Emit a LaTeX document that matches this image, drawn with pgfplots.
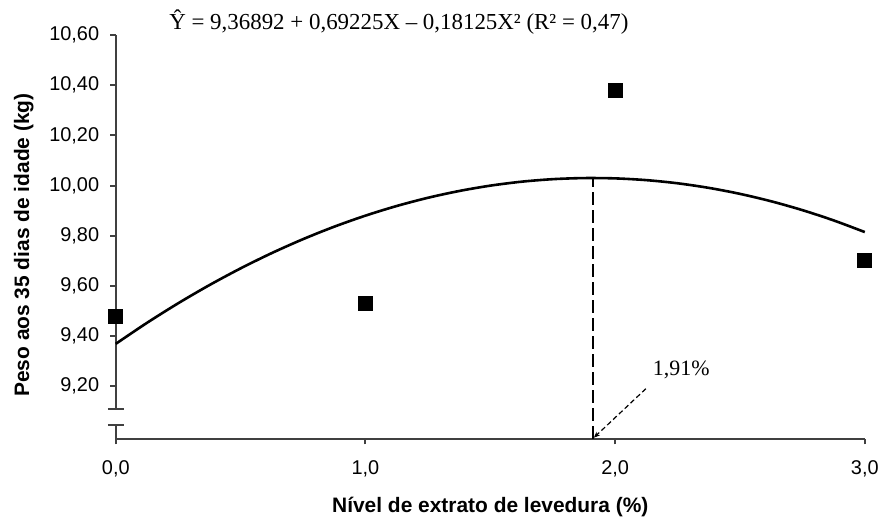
\documentclass[border=0pt]{standalone}
\usepackage{pgfplots}
\pgfplotsset{compat=1.18}
\usetikzlibrary{arrows.meta}
\usepackage{fontspec}
\setmainfont{Liberation Sans}
\newfontfamily\serif{Liberation Serif}

\begin{document}
\begin{tikzpicture}
% page size: 880x517 px at 0.5bp per px
\path[use as bounding box] (-57.9bp,-39bp) rectangle (382.2bp,219.5bp);
\begin{axis}[
    at={(0,0)}, anchor=south west,
    scale only axis,
    width=374.6bp, height=202bp,
    xmin=0, xmax=3, ymin=8.99, ymax=10.6,
    clip=false,
    axis x line=bottom, axis y line=left,
    axis line style={-, line width=1bp, black!75},
    xtick={0,1,2,3},
    ytick={9.2,9.4,9.6,9.8,10.0,10.2,10.4,10.6},
    tick align=outside,
    major tick length=2.8bp,
    tick style={line width=1bp, black!75},
    /pgf/number format/assume math mode=true,
    xticklabel style={yshift=-4.5bp, /pgf/number format/.cd, fixed, fixed zerofill, precision=1, use comma},
    yticklabel style={xshift=-2bp, /pgf/number format/.cd, fixed, fixed zerofill, precision=2, use comma},
    ticklabel style={font=\fontsize{10}{12}\selectfont},
    xlabel={N\'ivel de extrato de levedura (\%)},
    ylabel={Peso aos 35 dias de idade (kg)},
    label style={font=\fontsize{10.5}{12}\selectfont\bfseries},
    xlabel style={at={(axis description cs:0.5,0)}, anchor=center, yshift=-34bp},
    ylabel style={at={(axis description cs:0,0.48)}, anchor=center, yshift=46bp},
]
% fitted quadratic, points
\addplot[black, line width=1.3bp, smooth] coordinates {
    (0,9.36892) (0.125,9.45262) (0.25,9.53065) (0.375,9.60303) (0.5,9.66973)
    (0.625,9.73078) (0.75,9.78615) (0.875,9.83587) (1,9.87992) (1.125,9.91831)
    (1.25,9.95103) (1.375,9.97809) (1.5,9.99948) (1.625,10.01521) (1.75,10.02528)
    (1.875,10.02968) (2,10.02842) (2.125,10.02149) (2.25,10.00890) (2.375,9.99065)
    (2.5,9.96673) (2.625,9.93715) (2.75,9.90190) (2.875,9.86099) (3,9.81442)
};
% observed means
\addplot[only marks, mark=square*, mark size=3.5bp, black] coordinates {
    (0,9.48) (1,9.53) (2,10.38) (3,9.70)
};
% maximum point
\addplot[black, line width=1bp, dash pattern=on 6.5bp off 2.5bp] coordinates {(1.91,8.99) (1.91,10.0299)};

\draw[black, line width=0.6bp, dash pattern=on 2.5bp off 1.5bp, -{Stealth[length=3bp,width=2.5bp]}]
    (axis cs:2.123,9.19) -- (axis cs:1.915,8.995);
\node[font=\serif\fontsize{11}{12}\selectfont] at (axis cs:2.265,9.264) {1,91\%};

\node[font=\serif\fontsize{11.5}{13}\selectfont] at (rel axis cs:0.378,1.032)
    {Ŷ = 9,36892 + 0,69225X – 0,18125X² (R² = 0,47)};
\end{axis}
% broken y axis
\fill[white] (-2bp,7.4bp) rectangle (2bp,14.3bp);
\draw[line width=1bp, black!75] (-4bp,14.8bp) -- (4bp,14.8bp);
\draw[line width=1bp, black!75] (-4bp,6.9bp) -- (4bp,6.9bp);
\end{tikzpicture}
\end{document}
